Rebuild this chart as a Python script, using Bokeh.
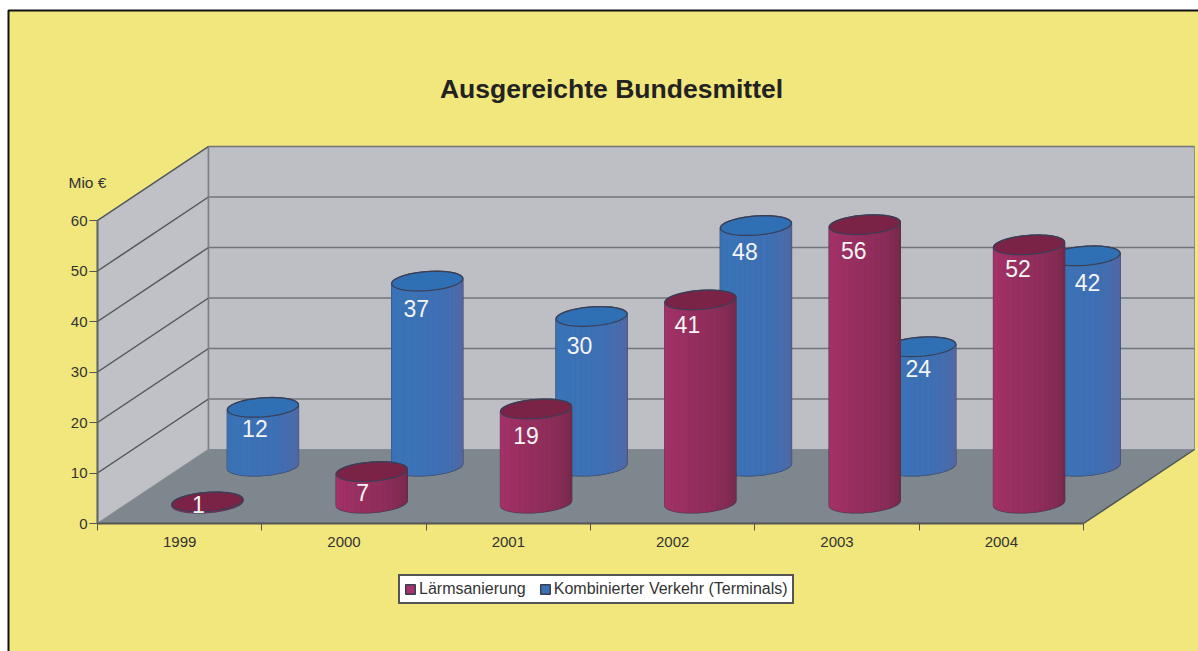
from bokeh.plotting import figure
from bokeh.models import Range1d, FixedTicker, Label, Legend, LegendItem, ColumnDataSource
from bokeh.embed import file_html
from bokeh.resources import INLINE
from bokeh.core.properties import value
import math

years = ["1999", "2000", "2001", "2002", "2003", "2004"]
laerm = [0.6, 6.6, 19, 40.6, 55.5, 51.5]
kombi = [12, 37, 30, 48, 24, 42]
y_ticks = [0, 10, 20, 30, 40, 50, 60]

W, H = 1198, 651
AX_X, AX_Y = 97, 523   # pixel of the origin
PX_X, PX_Y = 164.33, 5.05
DEPTH_X, DEPTH_Y = 111 / PX_X, 74 / PX_Y
RAD_X, RAD_Y = 35.5 / PX_X, 9.5 / PX_Y
SHEAR = 0.07 * PX_X / PX_Y
LIFT = 2 / PX_Y
FONT = "Liberation Sans"

# placement of the value labels relative to the column tops, in pixels
red_label_dx = [-9, -9, -10, -13, -11, -11]
red_label_dy = [3, 21, 26, 25, 26, 24]
blue_label_dx = [-8, -11, -12, -11, -2, 3]
blue_label_dy = [21, 27, 29, 26, 22, 27]


def dx_of(sx):
    return (sx - AX_X) / PX_X


def dy_of(sy):
    return (AX_Y - sy) / PX_Y


p = figure(width=W, height=H, output_backend="svg", toolbar_location=None,
           x_range=Range1d(dx_of(0), dx_of(W)), y_range=Range1d(dy_of(H), dy_of(0)),
           min_border=0, background_fill_color="white", border_fill_color="white", outline_line_color=None)
p.grid.visible = False

# page panel
xl, xr, yt, yb = dx_of(8), dx_of(W + 5), dy_of(10), dy_of(H + 5)
p.patch([xl, xr, xr, xl], [yb, yb, yt, yt], fill_color="#f1e77c", line_color=None)
p.line([xl, xl, xr], [yb, yt, yt], line_color="#111111", line_width=2)

n = len(years)
# walls and floor
p.patch([0, DEPTH_X, DEPTH_X, 0], [0, DEPTH_Y, 60 + DEPTH_Y, 60], fill_color="#bfc1c6", line_color="#8a8e92", line_width=1.5)
p.patch([DEPTH_X, n + DEPTH_X, n + DEPTH_X, DEPTH_X], [DEPTH_Y, DEPTH_Y, 60 + DEPTH_Y, 60 + DEPTH_Y],
        fill_color="#bdbfc4", line_color="#8a8e92", line_width=1)
p.patch([0, n, n + DEPTH_X, DEPTH_X], [0, 0, DEPTH_Y, DEPTH_Y], fill_color="#7d878d", line_color=None)
p.line([n, n + DEPTH_X], [0, DEPTH_Y], line_color="#4d5255", line_width=1.5)
# grid lines
for v in y_ticks:
    if v == 0:
        continue
    p.line([0, DEPTH_X], [v, v + DEPTH_Y], line_color="#50565a", line_width=1.5)
    p.line([DEPTH_X, n + DEPTH_X], [v + DEPTH_Y, v + DEPTH_Y], line_color="#72767b", line_width=1.5)
p.line([DEPTH_X, DEPTH_X], [DEPTH_Y, 60 + DEPTH_Y], line_color="#7b7f84", line_width=1.5)


def mix(c1, c2, f):
    a = [int(c1[i:i + 2], 16) for i in (1, 3, 5)]
    b = [int(c2[i:i + 2], 16) for i in (1, 3, 5)]
    return "#%02x%02x%02x" % tuple(round(a[k] + (b[k] - a[k]) * f) for k in range(3))


def edge(cx, base, t):
    dx = RAD_X * math.cos(t)
    return cx + dx, base + RAD_Y * math.sin(t) + dx * SHEAR


def draw_series(values, depth, bright, mid, dark, top_col, legend_col, label_dx, label_dy):
    strips = dict(x=[], y=[], c=[])
    sil = dict(x=[], y=[])
    tops = dict(x=[], y=[])
    labels = dict(x=[], y=[], t=[], oy=[])
    NS = 20
    for i, v in enumerate(values):
        cx = i + 0.5 + depth * DEPTH_X
        base = depth * DEPTH_Y + LIFT
        top = depth * DEPTH_Y + v
        for s in range(NS):
            t0 = math.pi + math.pi * s / NS
            t1 = math.pi + math.pi * (s + 1) / NS
            x0, y0 = edge(cx, base, t0)
            x1, y1 = edge(cx, base, t1)
            xt0, yt0 = edge(cx, top, t0)
            xt1, yt1 = edge(cx, top, t1)
            strips["x"].append([x0, x1, xt1, xt0])
            strips["y"].append([y0, y1, yt1, yt0])
            f = s / (NS - 1)
            col = mix(bright, mid, f / 0.6) if f < 0.6 else mix(mid, dark, (f - 0.6) / 0.4)
            strips["c"].append(col)
        low = [edge(cx, base, math.pi + math.pi * k / 40) for k in range(41)]
        high = [edge(cx, top, math.pi * k / 40) for k in range(41)]
        sil["x"].append([q[0] for q in low + high])
        sil["y"].append([q[1] for q in low + high])
        ring = [edge(cx, top, 2 * math.pi * k / 60) for k in range(61)]
        tops["x"].append([q[0] for q in ring])
        tops["y"].append([q[1] for q in ring])
        labels["x"].append(cx + label_dx[i] / PX_X)
        labels["y"].append(top)
        labels["t"].append(f"{v:.0f}")
        labels["oy"].append(label_dy[i])
    r_sil = p.patches("x", "y", source=ColumnDataSource(sil), fill_color=legend_col, line_color="#3a3f55", line_width=1.5)
    p.patches("x", "y", source=ColumnDataSource(strips), fill_color="c", line_color="c", line_width=0.5)
    p.patches("x", "y", source=ColumnDataSource(tops), fill_color=top_col, line_color="#3a3f55", line_width=1.2)
    p.text("x", "y", text="t", y_offset="oy", source=ColumnDataSource(labels), text_color="#f4f4f4",
           text_font=value(FONT), text_font_size="23px", text_align="center", text_baseline="middle")
    return r_sil


r_blue = draw_series(kombi, 0.75, "#3a74b8", "#3d70b4", "#5568a4", "#2f6fb3", "#3a70b4", blue_label_dx, blue_label_dy)
r_red = draw_series(laerm, 0.25, "#a8336a", "#8f2d5a", "#742a4a", "#7a2347", "#a8336a", red_label_dx, red_label_dy)

# axes
ax = p.xaxis[0]
ax.fixed_location = 0
ax.ticker = FixedTicker(ticks=[i + 0.5 for i in range(n)], minor_ticks=list(range(n + 1)))
ax.major_label_overrides = {i + 0.5: y for i, y in enumerate(years)}
ax.bounds = (0, n)
ax.major_tick_line_color = None
ax.minor_tick_out, ax.minor_tick_in = 7, 0
ax.minor_tick_line_color = "#555"
ax.axis_line_color = "#555"
ax.axis_line_width = 2
ax.major_label_text_font = FONT
ax.major_label_text_font_size = "15px"
ax.major_label_text_color = "#333"
ax.major_label_standoff = 6

ay = p.yaxis[0]
ay.fixed_location = 0
ay.ticker = FixedTicker(ticks=y_ticks)
ay.bounds = (0, 60)
ay.major_tick_out, ay.major_tick_in = 8, 0
ay.minor_tick_line_color = None
ay.major_tick_line_color = "#555"
ay.axis_line_color = "#666"
ay.axis_line_width = 2
ay.major_label_text_font = FONT
ay.major_label_text_font_size = "15px"
ay.major_label_text_color = "#333"
ay.major_label_standoff = 2

p.add_layout(Label(x=dx_of(611), y=dy_of(88), text="Ausgereichte Bundesmittel", text_font=FONT,
                   text_font_size="26.5px", text_font_style="bold", text_color="#222",
                   text_align="center", text_baseline="middle"))
p.add_layout(Label(x=dx_of(68), y=dy_of(182), text="Mio €", text_font=FONT, text_font_size="15.5px",
                   text_color="#333", text_baseline="middle"))

legend = Legend(items=[LegendItem(label="Lärmsanierung", renderers=[r_red], index=0),
                       LegendItem(label="Kombinierter Verkehr (Terminals)", renderers=[r_blue], index=0)],
                orientation="horizontal", location=(398, H - 604), margin=0, padding=4, spacing=13,
                glyph_width=12, glyph_height=12, label_text_font=FONT, label_text_font_size="16px",
                label_text_color="#333", label_standoff=3, border_line_color="#555", border_line_width=2,
                border_line_alpha=1, background_fill_color="white", background_fill_alpha=1)
p.add_layout(legend)

open("out.html", "w").write(file_html(p, INLINE))
